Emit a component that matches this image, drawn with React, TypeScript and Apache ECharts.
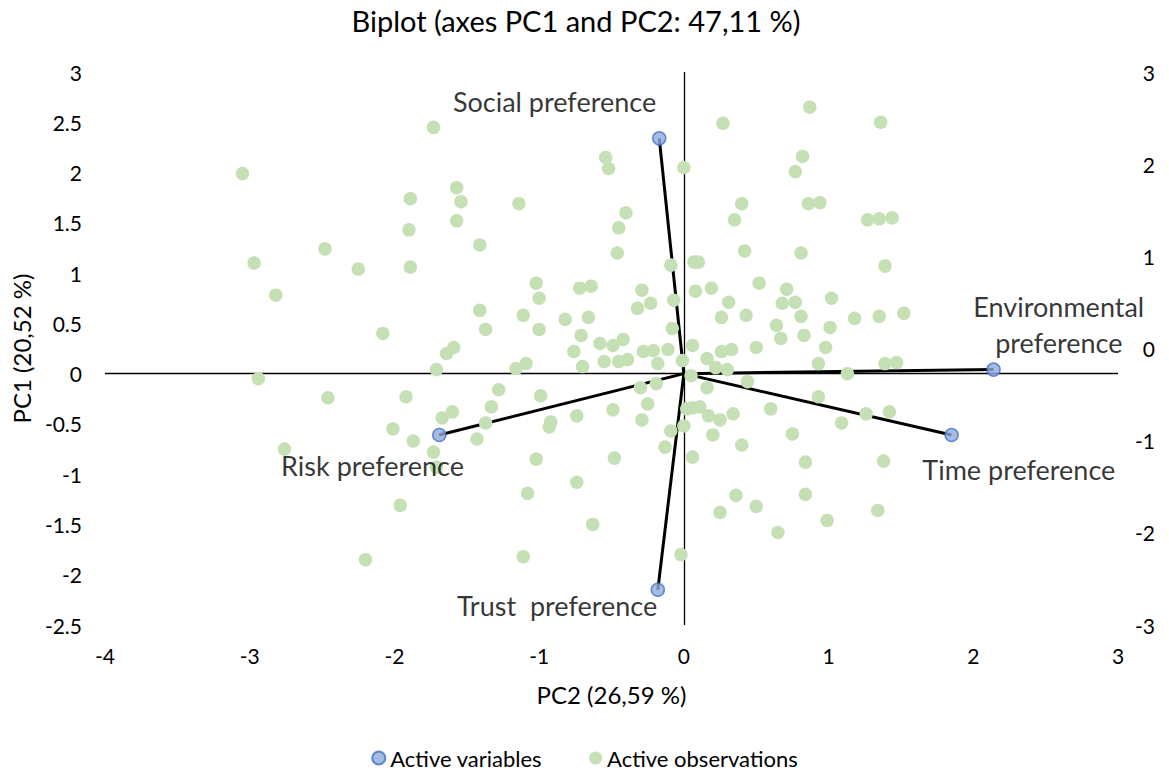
import React, { useEffect, useRef } from 'react';
import * as echarts from 'echarts';

// ---- Data ----
const obsPC2 = [
  -1.73, -3.05, -1.89, -1.90, -2.48, -2.97, -2.25, -1.89, -2.82, -2.08, -1.64, -1.59, -1.71,
  0.27, -0.54, -0.52, 0.00, -1.57, -1.54, -1.57, -1.14, -0.40, -0.45, 0.40, 0.35, 0.42, -0.46,
  -1.41, -0.09, 0.07, 0.10, -1.02, -1.00, -0.72, -0.64, -0.29, -0.23, -0.32, -0.07, 0.08, 0.19,
  0.31, 0.52, -1.41, -1.37, -1.11, -0.82, -0.66, -1.00, -0.71, -0.42, -0.49, -0.58, -0.08, 0.26,
  0.43, 0.64, 0.67, -0.76, -0.28, -0.21, -0.11, 0.06, 0.26, 0.33, 0.50, 0.16, -0.01, -1.16,
  -1.09, -0.70, -0.55, -0.45, -0.39, -0.18, 0.22, 0.30, 0.87, 1.36, 0.82, 0.77, 0.86, 0.94,
  1.27, 1.35, 1.44, 0.81, 1.39, 0.71, 0.68, 0.77, 1.02, 0.81, 0.83, 1.01, 1.18, 1.35, 1.52,
  0.98, 0.93, 1.39, 1.47, 1.13, 0.93, 0.60, 1.26, 1.42, 1.09, 0.75, 0.84, 1.38, 0.84, 1.34,
  0.99, 0.65, 0.05, 0.44, -0.30, -0.19, 0.16, -1.28, -0.99, -1.33, -0.25, -0.49, -0.74, -1.60,
  -1.67, -1.37, -0.92, -0.93, 0.02, 0.06, 0.11, 0.17, 0.25, 0.34, -0.29, 0.00, -0.09, 0.20,
  -1.43, -0.13, 0.40, 0.06, -1.02, -0.48, -0.74, -1.08, 0.36, 0.50, 0.25, -0.63, -1.11, -0.02,
  -2.94, -2.46, -1.92, -2.01, -1.87, -1.73, -1.71, -2.76, -1.96, -2.20,
];
const obsPC1 = [
  2.45, 1.99, 1.74, 1.43, 1.24, 1.10, 1.04, 1.06, 0.78, 0.40, 0.20, 0.26, 0.04,
  2.49, 2.15, 2.04, 2.05, 1.85, 1.71, 1.52, 1.69, 1.60, 1.45, 1.69, 1.53, 1.22, 1.20,
  1.28, 1.08, 1.11, 1.11, 0.90, 0.75, 0.85, 0.87, 0.83, 0.70, 0.65, 0.73, 0.82, 0.85,
  0.71, 0.90, 0.63, 0.44, 0.58, 0.54, 0.56, 0.44, 0.38, 0.34, 0.28, 0.30, 0.45, 0.56,
  0.58, 0.48, 0.35, 0.22, 0.22, 0.23, 0.24, 0.28, 0.22, 0.24, 0.26, 0.15, 0.13, 0.05,
  0.10, 0.07, 0.12, 0.12, 0.14, 0.10, 0.06, 0.04, 2.65, 2.50, 2.16, 2.01, 1.69, 1.70,
  1.53, 1.54, 1.55, 1.20, 1.07, 0.84, 0.70, 0.71, 0.75, 0.57, 0.38, 0.46, 0.55, 0.57, 0.60,
  0.26, 0.10, 0.10, 0.11, 0.00, -0.23, -0.35, -0.40, -0.38, -0.49, -0.60, -0.88, -0.87, -1.20, -1.36,
  -1.46, -1.58, -0.02, -0.08, -0.14, -0.10, -0.14, -0.16, -0.22, -0.33, -0.30, -0.36, -0.42, -0.38,
  -0.44, -0.49, -0.48, -0.53, -0.35, -0.34, -0.33, -0.42, -0.46, -0.40, -0.46, -0.52, -0.57, -0.61,
  -0.65, -0.73, -0.71, -0.83, -0.85, -0.84, -1.08, -1.19, -1.21, -1.32, -1.38, -1.50, -1.82, -1.80,
  -0.05, -0.24, -0.23, -0.55, -0.67, -0.78, -0.93, -0.75, -1.31, -1.85,
];

const varNames = [
  'Social preference',
  'Environmental\npreference',
  'Time preference',
  'Risk preference',
  'Trust  preference',
];
const varPC2 = [-0.17, 2.14, 1.85, -1.69, -0.18];
const varPC1 = [2.34, 0.04, -0.61, -0.61, -2.15];

const xTicks = { min: -4, max: 3, interval: 1 };
const yLeftTicks = { min: -2.5, max: 3, interval: 0.5 };
const yRightTicks = { min: -3, max: 3, interval: 1 };

// ---- Styles ----
const FONT = 'Lato';
const TEXT = '#000000';
const VAR_SIZE = 13;
const labelOffsets = [
  [-104, -36],
  [66, -44],
  [68, 35],
  [-66, 31],
  [-100, 16],
];

export default function App() {
  const ref = useRef<HTMLDivElement>(null);

  useEffect(() => {
    if (!ref.current) return;
    const chart = echarts.init(ref.current, undefined, { renderer: 'svg' });
    const option: any = {
      animation: false,
      backgroundColor: '#ffffff',
      textStyle: { fontFamily: FONT },
      title: {
        text: 'Biplot (axes PC1 and PC2: 47,11 %)',
        left: 576,
        top: 6,
        padding: 0,
        textAlign: 'center',
        textStyle: { fontFamily: FONT, fontSize: 29, fontWeight: 'normal', color: TEXT },
      },
      legend: {
        data: ['Active variables', 'Active observations'],
        left: 'center',
        top: 747,
        padding: 0,
        icon: 'circle',
        itemWidth: 13,
        itemHeight: 13,
        itemGap: 47,
        textStyle: { fontFamily: FONT, fontSize: 22, color: TEXT },
      },
      grid: { left: 105, right: 51, top: 72, bottom: 151 },
      xAxis: {
        type: 'value',
        min: xTicks.min,
        max: xTicks.max,
        interval: xTicks.interval,
        name: 'PC2 (26,59 %)',
        nameLocation: 'middle',
        nameGap: 57,
        nameTextStyle: { fontFamily: FONT, fontSize: 24, color: TEXT },
        axisLine: { show: false },
        axisTick: { show: false },
        splitLine: { show: false },
        axisLabel: { fontFamily: FONT, fontSize: 21, color: TEXT, margin: 20 },
      },
      yAxis: [
        {
          type: 'value',
          position: 'left',
          min: yLeftTicks.min,
          max: yLeftTicks.max,
          interval: yLeftTicks.interval,
          name: 'PC1 (20,52 %)',
          nameLocation: 'middle',
          nameGap: 70,
          nameRotate: 90,
          nameTextStyle: { fontFamily: FONT, fontSize: 24, color: TEXT },
          axisLine: { show: false },
          axisTick: { show: false },
          splitLine: { show: false },
          axisLabel: { fontFamily: FONT, fontSize: 21, color: TEXT, margin: 23 },
        },
        {
          type: 'value',
          position: 'right',
          min: yRightTicks.min,
          max: yRightTicks.max,
          interval: yRightTicks.interval,
          axisLine: { show: false },
          axisTick: { show: false },
          splitLine: { show: false },
          axisLabel: { fontFamily: FONT, fontSize: 21, color: TEXT, margin: 37, align: 'right' },
        },
      ],
      series: [
        {
          type: 'lines',
          coordinateSystem: 'cartesian2d',
          silent: true,
          z: 2,
          data: varPC2.map((x, i) => ({ coords: [[0, 0], [x, varPC1[i]]] })),
          lineStyle: { color: '#000000', width: 3, opacity: 1, curveness: 0 },
        },
        {
          name: 'Active observations',
          type: 'scatter',
          z: 3,
          symbol: 'circle',
          symbolSize: 13.5,
          itemStyle: { color: '#C5E0B4', opacity: 1 },
          data: obsPC2.map((x, i) => [x, obsPC1[i]]),
          markLine: {
            silent: true,
            z: 1,
            symbol: ['none', 'none'],
            label: { show: false },
            lineStyle: { color: '#000000', width: 1.3, type: 'solid' },
            emphasis: { disabled: true },
            data: [{ yAxis: 0 }, { xAxis: 0 }],
          },
        },
        {
          name: 'Active variables',
          type: 'scatter',
          z: 4,
          symbol: 'circle',
          symbolSize: VAR_SIZE,
          itemStyle: { color: '#8FAADC', borderColor: '#4472C4', borderWidth: 1.5 },
          label: {
            show: true,
            formatter: '{b}',
            fontFamily: FONT,
            fontSize: 27,
            lineHeight: 36,
            color: TEXT,
            align: 'center',
            verticalAlign: 'middle',
          },
          data: varPC2.map((x, i) => ({
            value: [x, varPC1[i]],
            name: varNames[i],
            label: {
              position: [VAR_SIZE / 2 + labelOffsets[i][0], VAR_SIZE / 2 + labelOffsets[i][1]],
            },
          })),
        },
      ],
    };
    chart.setOption(option);
    return () => chart.dispose();
  }, []);

  return (
    <div
      ref={ref}
      style={{ position: 'fixed', left: 0, top: 0, width: 1169, height: 776, background: '#fff' }}
    />
  );
}
